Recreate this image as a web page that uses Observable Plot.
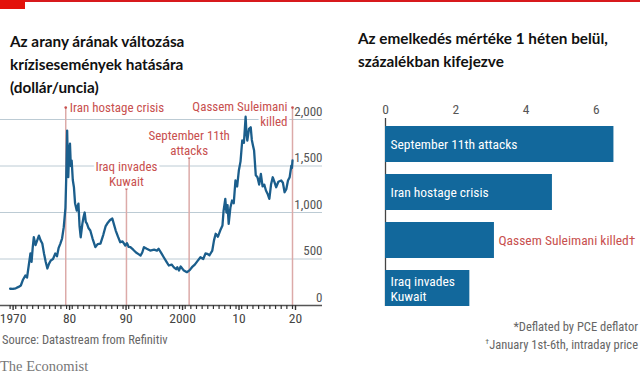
<!DOCTYPE html>
<html><head><meta charset="utf-8">
<script src="https://cdn.jsdelivr.net/npm/d3@7"></script>
<script src="https://cdn.jsdelivr.net/npm/@observablehq/plot@0.6"></script>
<style>
body{margin:0;background:#fff}
#wrap{position:relative;width:640px;height:374px;overflow:hidden;background:#fff;font-family:"Roboto Condensed",sans-serif}
.abs{position:absolute}
.title{font-family:Lato,sans-serif;font-weight:700;font-size:15.3px;color:#111;line-height:23px}
.foot{color:#666;font-size:12.5px}
</style></head><body>
<div id="wrap">
 <div class="abs" style="left:0;top:0;width:640px;height:2px;background:#d7191c"></div>
 <div class="abs" style="left:0;top:0;width:25px;height:9px;background:#e3120b"></div>
 <div class="abs title" style="left:10px;top:30px">Az arany árának változása<br>krízisesemények hatására<br>(dollár/uncia)</div>
 <div class="abs title" style="left:358px;top:27px">Az emelkedés mértéke 1 héten belül,<br>százalékban kifejezve</div>
 <div id="left" class="abs" style="left:0;top:95px"></div>
 <div id="right" class="abs" style="left:340px;top:95px"></div>
 <div class="abs foot" style="left:2px;top:332px">Source: Datastream from Refinitiv</div>
 <div class="abs" style="left:0;top:358px;font-family:'Liberation Serif',serif;font-size:14.5px;color:#777">The Economist</div>
 <div class="abs foot" style="right:2px;top:319px;text-align:right;line-height:15px">*Deflated by PCE deflator<br><sup style="font-size:8px">†</sup>January 1st-6th, intraday price</div>
</div>
<script>
// ---- Left chart: real gold price, $ per troy ounce ----
const goldYears = [1970.0,1970.5,1971.0,1971.5,1971.9,1972.3,1972.7,1973.0,1973.3,1973.6,1973.8,1974.0,1974.2,1974.5,1974.8,1975.1,1975.4,1975.7,1976.0,1976.3,1976.6,1976.9,1977.2,1977.6,1978.0,1978.3,1978.6,1978.9,1979.2,1979.5,1979.8,1979.95,1980.1,1980.2,1980.3,1980.45,1980.6,1980.75,1980.9,1981.1,1981.3,1981.5,1981.8,1982.1,1982.3,1982.5,1982.8,1983.0,1983.2,1983.4,1983.6,1983.9,1984.2,1984.6,1985.1,1985.5,1986.0,1986.5,1986.9,1987.2,1987.7,1988.1,1988.4,1988.7,1989.1,1989.5,1989.9,1990.4,1990.7,1991.0,1991.3,1991.8,1992.3,1992.8,1993.1,1993.4,1993.7,1994.2,1994.8,1995.5,1996.0,1996.3,1996.8,1997.2,1997.7,1998.1,1998.6,1999.0,1999.4,1999.6,1999.9,2000.2,2000.7,2001.3,2001.8,2002.2,2002.7,2003.2,2003.7,2004.2,2004.6,2004.9,2005.3,2005.8,2006.1,2006.4,2006.8,2007.2,2007.6,2007.8,2008.1,2008.3,2008.5,2008.7,2009.0,2009.3,2009.6,2009.9,2010.2,2010.5,2010.8,2011.1,2011.4,2011.7,2011.85,2012.0,2012.3,2012.6,2012.8,2013.0,2013.2,2013.5,2013.8,2014.1,2014.4,2014.7,2015.0,2015.3,2015.6,2015.9,2016.2,2016.5,2016.8,2017.1,2017.5,2018.0,2018.3,2018.6,2018.9,2019.2,2019.5,2019.8,2019.9,2020.0];
const goldValues = [180,178,185,200,215,280,322,300,430,559,470,620,734,650,700,752,700,666,560,470,398,450,484,500,559,530,620,666,720,842,1050,1400,1881,1600,1380,1650,1741,1500,1559,1350,1272,1100,1021,1096,850,734,880,949,1000,900,881,830,806,720,627,660,666,760,850,881,920,935,870,806,740,680,690,645,670,630,627,600,570,550,537,570,627,610,591,600,590,610,560,519,470,430,440,410,390,412,376,420,380,358,380,412,440,480,519,500,560,556,540,591,700,771,740,806,860,1021,1147,1000,1080,878,1050,1129,1100,1344,1280,1451,1550,1774,1750,2030,1850,1774,1900,1917,1780,1720,1666,1400,1379,1300,1416,1280,1300,1236,1200,1147,1300,1379,1330,1272,1330,1344,1320,1218,1250,1344,1380,1505,1480,1559];
const yTicks = [0, 500, 1000, 1500, 2000];
const decadeTicks = [1970, 1980, 1990, 2000, 2010, 2020];
const decadeLabels = ["1970", "80", "90", "2000", "10", "20"];
const eventNames = ["Iran hostage crisis", "Iraq invades\nKuwait", "September 11th\nattacks", "Qassem Suleimani\nkilled"];
const eventDates = [1979.85, 1990.6, 2001.7, 2020.0];

// ---- Right chart: rise within one week, % ----
const barNames = ["September 11th attacks", "Iran hostage crisis", "Qassem Suleimani killed†", "Iraq invades\nKuwait"];
const barValues = [6.5, 4.75, 3.1, 2.4];
const xTicksRight = [0, 2, 4, 6];

const gold = goldYears.map((y, i) => ({year: y, value: goldValues[i]}));
const events = eventNames.map((n, i) => ({name: n, date: eventDates[i]}));
const ANN = "#c8504e", ANNLINE = "#dcaaa8", LINE = "#1b5e8c", GRID = "#bccbd4";
const font = "Roboto Condensed";

const lineTop = 2128;
const left = Plot.plot({
  width: 330, height: 240,
  marginLeft: 9.6, marginRight: 38, marginTop: 24, marginBottom: 30,
  style: {fontFamily: font, fontSize: "13px", overflow: "visible", background: "transparent"},
  x: {domain: [1970, 2020]},
  y: {domain: [0, 2000]},
  marks: [
    Plot.ruleY(yTicks.filter(d => d > 0), {y: d => d, stroke: GRID, strokeWidth: 1, insetLeft: -10, insetRight: -30}),
    Plot.axisY({anchor: "right", ticks: yTicks, tickSize: 0, tickPadding: 0, dx: 30, dy: -8, textAnchor: "end", tickFormat: d3.format(","), fill: "#555", fontSize: 13, label: null}),
    Plot.ruleX([events[0], events[3]], {x: "date", y1: 0, y2: lineTop, stroke: ANNLINE, strokeWidth: 1.5}),
    Plot.ruleX([events[2]], {x: "date", y1: 0, y2: 1591, stroke: ANNLINE, strokeWidth: 1.5}),
    Plot.ruleX([events[1]], {x: "date", y1: 0, y2: 1258, stroke: ANNLINE, strokeWidth: 1.5}),
    Plot.dot([events[0], events[3]], {x: "date", y: lineTop, r: 1.3, fill: ANN, stroke: null}),
    Plot.dot([events[2]], {x: "date", y: 1591, r: 1.3, fill: ANN, stroke: null}),
    Plot.dot([events[1]], {x: "date", y: 1258, r: 1.3, fill: ANN, stroke: null}),
    Plot.text([events[0]], {x: "date", y: lineTop, text: "name", textAnchor: "start", dx: 4, fill: ANN, stroke: "white", strokeWidth: 5, fontSize: 13}),
    Plot.text([events[3]], {x: "date", y: lineTop, text: "name", textAnchor: "end", lineAnchor: "top", dx: -5, dy: -8, lineHeight: 1.2, fill: ANN, stroke: "white", strokeWidth: 5, fontSize: 13}),
    Plot.text([events[2]], {x: "date", y: 1591, text: "name", lineAnchor: "bottom", dy: -3, lineHeight: 1.15, fill: ANN, stroke: "white", strokeWidth: 5, fontSize: 13}),
    Plot.text([events[1]], {x: "date", y: 1258, text: "name", lineAnchor: "bottom", dy: -3, lineHeight: 1.15, fill: ANN, stroke: "white", strokeWidth: 5, fontSize: 13}),
    Plot.line(gold, {x: "year", y: "value", stroke: LINE, strokeWidth: 2.3, strokeLinejoin: "round"}),
    Plot.ruleY([0], {stroke: "#555", strokeWidth: 1.3, insetLeft: -10, insetRight: -30}),
    Plot.axisX({ticks: d3.range(1970, 2021), tickSize: 4, tickFormat: () => "", stroke: "#333", strokeWidth: 1.2, label: null}),
    Plot.axisX({ticks: decadeTicks, tickSize: 5, tickPadding: 3, dx: 3, tickFormat: d => decadeLabels[decadeTicks.indexOf(d)], fill: "#444", fontSize: 13.5, stroke: "#333", strokeWidth: 1.4, label: null})
  ]
});
document.getElementById("left").appendChild(left);

const bars = barNames.map((n, i) => ({name: n, value: barValues[i]}));
const right = Plot.plot({
  width: 300, height: 230,
  marginLeft: 45, marginRight: 9, marginTop: 23, marginBottom: 19,
  style: {fontFamily: font, fontSize: "13px", overflow: "visible", background: "transparent"},
  x: {domain: [0, 7]},
  y: {domain: barNames, range: [31, 211], paddingInner: 0.25, paddingOuter: 0, axis: null},
  marks: [
    Plot.ruleX(d3.cross([2, 4, 6], barNames.slice(0, 2)), {x: d => d[0], y: d => d[1], insetTop: -12, stroke: "#c9cfd3", strokeWidth: 1}),
    Plot.ruleX(d3.cross([2], barNames.slice(2, 4)), {x: d => d[0], y: d => d[1], insetTop: -12, stroke: "#c9cfd3", strokeWidth: 1}),
    Plot.ruleX(d3.cross([4, 6], barNames.slice(2, 3)), {x: d => d[0], y: d => d[1], insetTop: -12, insetBottom: 36, stroke: "#c9cfd3", strokeWidth: 1}),
    Plot.ruleX([0], {stroke: "#444", strokeWidth: 1.3}),
    Plot.axisX({anchor: "top", ticks: xTicksRight, tickSize: 0, tickPadding: 5, tickFormat: d3.format("d"), fill: "#555", fontSize: 13.5, label: null}),
    Plot.barX(bars, {x: "value", y: "name", fill: "#12689c"}),
    Plot.text(bars.filter(d => d.value > 4 || d.value < 3), {x: 0, y: "name", text: "name", textAnchor: "start", dx: 5, fill: "white", fontSize: 13.5, lineHeight: 1.1}),
    Plot.text(bars.filter(d => d.value > 3 && d.value < 4), {x: "value", y: "name", text: "name", textAnchor: "start", dx: 4, fill: ANN, fontSize: 13.5})
  ]
});
document.getElementById("right").appendChild(right);
</script>
</body></html>
